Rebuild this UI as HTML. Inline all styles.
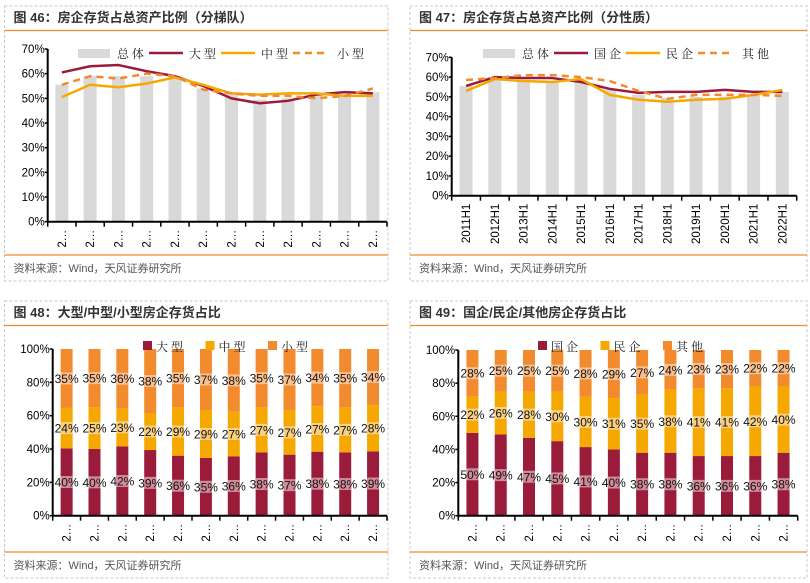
<!DOCTYPE html>
<html><head><meta charset="utf-8">
<style>
html,body{margin:0;padding:0;background:#fff;}
svg{display:block;font-family:"Liberation Sans","Noto Sans CJK SC",sans-serif;}
.title{font-size:13px;font-weight:bold;fill:#333;}
.foot{font-size:11px;fill:#555;}
.tick{font-size:11.5px;fill:#000;}
.leg{font-size:12px;fill:#222;font-family:"Noto Serif CJK SC","Liberation Serif",serif;letter-spacing:3px;}
.lbl{font-size:12px;fill:#111;}
</style></head>
<body>
<svg id="c" width="810" height="583" viewBox="0 0 810 583" xmlns="http://www.w3.org/2000/svg"></svg>
<script>
// ---- data ----
const periods = ["2011H1","2012H1","2013H1","2014H1","2015H1","2016H1","2017H1","2018H1","2019H1","2020H1","2021H1","2022H1"];
const total46 = [55.5,59,59,59,59,54,51.5,49.5,50,51,51.5,52.5];
const large46 = [60.5,63,63.5,61,59,55,50,48,49,51.5,52.5,52];
const mid46 = [50.5,55.5,54.5,56,58.5,55.5,52,51.5,52,52,51,51];
const small46 = [55.5,59,58,60,59,53.5,52,51,51,50,51,54];
const total47 = [55.5,59,58.5,58,58,53.5,51,49.5,50,50,51.5,52.5];
const soe47 = [55.5,60,59.5,59.5,57.5,54,52,52.5,52.5,53.5,52.5,52.5];
const private47 = [53,59,58,57.5,59,51,48.5,47.5,48.5,49,51,53.5];
const other47 = [58.5,59.5,61,61,60,58,53,49,51,51,51,50.5];
const large48 = [40,40,42,39,36,35,36,38,37,38,38,39];
const mid48 = [24,25,23,22,29,29,27,27,27,27,27,28];
const small48 = [35,35,36,38,35,37,38,35,37,34,35,34];
const soe49 = [50,49,47,45,41,40,38,38,36,36,36,38];
const private49 = [22,26,28,30,30,31,35,38,41,41,42,40];
const other49 = [28,25,25,25,28,29,27,24,23,23,22,22];
const ticks70 = [0,10,20,30,40,50,60,70];
const ticks100 = [0,20,40,60,80,100];

const NS="http://www.w3.org/2000/svg";
const svg=document.getElementById('c');
function el(tag,attrs,parent,text){
  const e=document.createElementNS(NS,tag);
  for(const k in attrs)e.setAttribute(k,attrs[k]);
  if(text!==undefined)e.textContent=text;
  (parent||svg).appendChild(e);return e;
}
const RED="#9B1B3A",YEL="#F5A800",ORG="#F28A2E",GRAY="#D9D9D9";

function frame(x0,x1,y0,y1,title,name){
  const g=el('g',{});
  
  
  const r=el('rect',{x:x0,y:y0,width:x1-x0,height:y1-y0,fill:'none',stroke:'#c8c8c8','stroke-dasharray':'3,2'},g);
  
  const t=el('text',{x:x0+9,y:y0+16,class:'title'},g,title);
  
  const l1=el('line',{x1:x0,x2:x1,y1:y0+24.5,y2:y0+24.5,stroke:'#F08A24','stroke-width':1.2},g);
  
  const l2=el('line',{x1:x0,x2:x1,y1:y1-26,y2:y1-26,stroke:'#F08A24','stroke-width':1.2},g);
  
  const f=el('text',{x:x0+9,y:y1-9,class:'foot'},g,'资料来源：Wind，天风证券研究所');
  
  return g;
}

function axes(g,ax,ay0,ax1,yMax,yMaxPx,ticks,labels){
  const ys=v=>ay0-(v/yMax)*(ay0-yMaxPx);
  const n=periods.length,cw=(ax1-ax)/n;
  const xc=i=>ax+cw*(i+0.5);
  ticks.forEach(t=>{
    const tx=el('text',{x:ax-3,y:ys(t)+4,class:'tick','text-anchor':'end'},g,t+'%');
    
    const tk=el('line',{x1:ax-3,x2:ax,y1:ys(t),y2:ys(t),stroke:'#000','stroke-width':1.5},g);
    
  });
  for(let i=0;i<=n;i++){
    const tk=el('line',{x1:ax+cw*i,x2:ax+cw*i,y1:ay0,y2:ay0+5,stroke:'#000','stroke-width':1.5},g);
    
  }
  periods.forEach((p,i)=>{
    const tx=el('text',{x:0,y:0,class:'tick','text-anchor':'end',transform:`translate(${xc(i)+4},${ay0+8}) rotate(-90)`},g,labels?p:'2…');
    
  });
  return {ys,xc,cw};
}
function axisLines(g,ax,ay0,ax1,yTop){
  const a=el('line',{x1:ax,x2:ax,y1:yTop,y2:ay0,stroke:'#000','stroke-width':2},g);
  
  const b=el('line',{x1:ax,x2:ax1,y1:ay0,y2:ay0,stroke:'#000','stroke-width':2},g);
  
}

function lineChart(g,ax,ay0,ax1,yTop,total,s1,s2,s3,names,legX,legY,labels){
  const {ys,xc,cw}=axes(g,ax,ay0,ax1,70,yTop,ticks70,labels);
  total.forEach((v,i)=>{
    const r=el('rect',{x:xc(i)-6.5,y:ys(v),width:13,height:ay0-ys(v),fill:GRAY},g);
    
  });
  [[s1,RED,''],[s2,YEL,''],[s3,ORG,'7,5']].forEach(([s,c,d],k)=>{
    const p=el('polyline',{points:s.map((v,i)=>xc(i)+','+ys(v)).join(' '),fill:'none',stroke:c,'stroke-width':2.5,'stroke-dasharray':d||'none','stroke-linejoin':'round'},g);
    
  });
  axisLines(g,ax,ay0,ax1,yTop);
  // legend
  const lg=el('g',{},g);
  
  const r=el('rect',{x:legX,y:legY-4,width:32,height:9,fill:GRAY},lg);
  
  const t0=el('text',{x:legX+39,y:legY+5,class:'leg'},lg,'总体');
  
  [[RED,'',names[0],71],[YEL,'',names[1],143],[ORG,'7,5',names[2],215]].forEach(([c,d,nm,off])=>{
    const l=el('line',{x1:legX+off,x2:legX+off+34,y1:legY,y2:legY,stroke:c,'stroke-width':2.5,'stroke-dasharray':d||'none'},lg);
    
    const t=el('text',{x:legX+off+(d?44:40),y:legY+5,class:'leg'},lg,nm);
    
  });
}

function stackChart(g,ax,ay0,ax1,yTop,a,b,c,names,legX,legY){
  const {ys,xc}=axes(g,ax,ay0,ax1,100,yTop,ticks100,false);
  const cols=[[RED,'#D08A9A'],[YEL,'#FAD080'],[ORG,'#FAC090']];
  periods.forEach((p,i)=>{
    const vals=[a[i],b[i],c[i]],sum=vals[0]+vals[1]+vals[2];
    let cum=0;
    vals.forEach((v,k)=>{
      const lo=cum/sum*100,hi=(cum+v)/sum*100;cum+=v;
      const r=el('rect',{x:xc(i)-6,y:ys(hi),width:12,height:ys(lo)-ys(hi),fill:cols[k][0]},g);
      
      const mid=(ys(lo)+ys(hi))/2;
      const band=el('rect',{x:xc(i)-6,y:mid-6,width:12,height:12,fill:cols[k][1]},g);
      
      const t=el('text',{x:xc(i),y:mid+4.5,class:'lbl','text-anchor':'middle'},g,v+'%');
      
    });
  });
  axisLines(g,ax,ay0,ax1,yTop);
  const lg=el('g',{},g);
  
  names.forEach((nm,k)=>{
    const r=el('rect',{x:legX+k*62.5,y:legY-5,width:9,height:9,fill:cols[k][0]},lg);
    
    const t=el('text',{x:legX+k*62.5+13,y:legY+5,class:'leg'},lg,nm);
    
  });
}

const g1=frame(4.5,388,6,281,'图 46：房企存货占总资产比例（分梯队）','panel-fig46');
lineChart(g1,47.7,221.7,387,49,total46,large46,mid46,small46,['大型','中型','小型'],78,53,false);
const g2=frame(410,807,6,281,'图 47：房企存货占总资产比例（分性质）','panel-fig47');
lineChart(g2,451.7,195.7,796.7,57.3,total47,soe47,private47,other47,['国企','民企','其他'],483,53,true);
const g3=frame(4.5,388,301,578,'图 48：大型/中型/小型房企存货占比','panel-fig48');
stackChart(g3,52.7,515.7,387,349,large48,mid48,small48,['大型','中型','小型'],143,346);
const g4=frame(410,807,301,578,'图 49：国企/民企/其他房企存货占比','panel-fig49');
stackChart(g4,458.3,515.7,797.7,350,soe49,private49,other49,['国企','民企','其他'],538,346);
</script>
</body></html>
